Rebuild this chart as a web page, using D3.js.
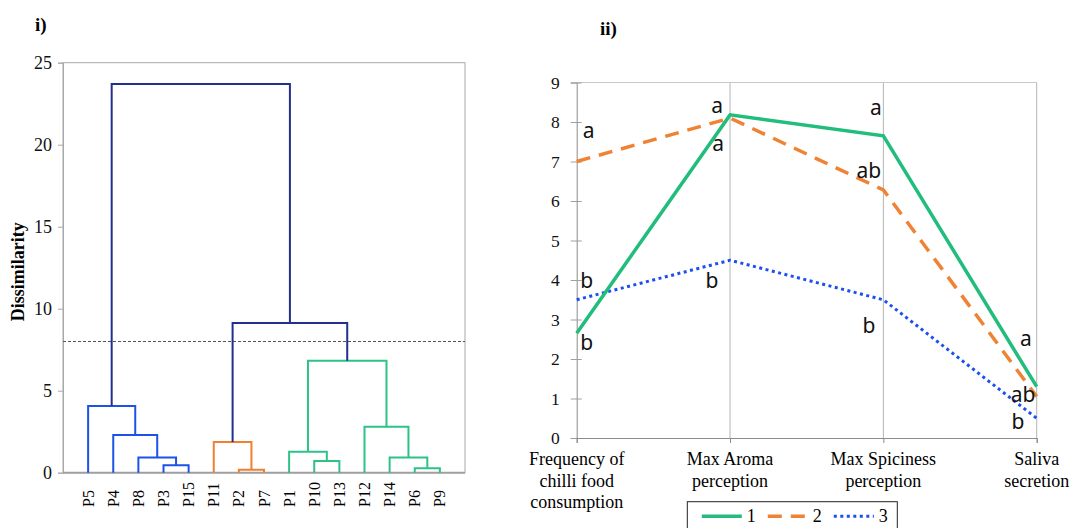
<!DOCTYPE html>
<html>
<head>
<meta charset="utf-8">
<script src="https://cdn.jsdelivr.net/npm/d3@7"></script>
<style>
  body { margin: 0; background: #fff; }
  svg { display: block; }
  svg text { font-family: "Liberation Serif", "Times New Roman", serif; }
</style>
</head>
<body>
<div id="chart"></div>
<script>
// ---- panel i) dendrogram ----
const leafNames = ["P5", "P4", "P8", "P3", "P15", "P11", "P2", "P7", "P1", "P10", "P13", "P12", "P14", "P6", "P9"];
const leafCluster = [1, 1, 1, 1, 1, 2, 2, 2, 3, 3, 3, 3, 3, 3, 3];
// agglomeration steps, merge k creates node "n<k>"
const mergeA = ["P3", "P8", "P4", "P5", "P2", "P11", "P10", "P1", "P6", "P14", "P12", "n8", "n6", "n4"];
const mergeB = ["P15", "n1", "n2", "n3", "P7", "n5", "P13", "n7", "P9", "n9", "n10", "n11", "n12", "n13"];
const mergeHeight = [0.45, 0.92, 2.3, 4.07, 0.18, 1.87, 0.71, 1.28, 0.27, 0.92, 2.8, 6.83, 9.13, 23.7];
const cutLevel = 8;
const dissTicks = [0, 5, 10, 15, 20, 25];

// ---- panel ii) cluster profiles ----
const criteria = [
  ["Frequency of", "chilli food", "consumption"],
  ["Max Aroma", "perception"],
  ["Max Spiciness", "perception"],
  ["Saliva", "secretion"]
];
const seriesNames = ["1", "2", "3"];
const cluster1 = [2.65, 8.18, 7.65, 1.3];
const cluster2 = [7.0, 8.1, 6.28, 1.05];
const cluster3 = [3.5, 4.5, 3.5, 0.5];
const letters1 = ["b", "a", "a", "a"];
const letters2 = ["a", "a", "ab", "ab"];
const letters3 = ["b", "b", "b", "b"];
const scoreTicks = [0, 1, 2, 3, 4, 5, 6, 7, 8, 9];

const W = 1070, H = 528;
const svg = d3.select("#chart").append("svg").attr("width", W).attr("height", H);

const navy = "#232f8e";
const clusterColor = { 1: "#1c53e6", 2: "#f07f30", 3: "#2ec286" };

// ================= panel i =================
const L = { left: 63, right: 465, top: 62.7, bottom: 472.7 };

const xLeaf = d3.scalePoint().domain(leafNames).range([L.left, L.right]).padding(1);
const yDiss = d3.scaleLinear().domain([0, 25]).range([L.bottom, L.top]);

svg.append("text")
  .attr("x", 35).attr("y", 31)
  .style("font-size", "19px").style("font-weight", "bold")
  .text("i)");

// frame
svg.append("rect")
  .attr("x", L.left).attr("y", L.top)
  .attr("width", L.right - L.left).attr("height", L.bottom - L.top)
  .style("fill", "none").style("stroke", "#a8a8a8").style("stroke-width", 1);

// y axis
const axL = svg.append("g")
  .attr("transform", `translate(${L.left},0)`)
  .call(d3.axisLeft(yDiss).tickValues(dissTicks).tickSize(5).tickPadding(6));
axL.attr("font-family", null);
axL.select(".domain").style("stroke", "#a8a8a8");
axL.selectAll("line").style("stroke", "#a8a8a8");
axL.selectAll("text").style("font-size", "18px").style("fill", "#111");

// bottom line a bit heavier
svg.append("line")
  .attr("x1", L.left).attr("x2", L.right)
  .attr("y1", yDiss(0)).attr("y2", yDiss(0))
  .style("stroke", "#a0a0a0").style("stroke-width", 2);

svg.append("text")
  .attr("transform", `translate(18,${(L.top + L.bottom) / 2 + 4}) rotate(-90)`)
  .attr("dy", "0.35em")
  .style("text-anchor", "middle")
  .style("font-size", "18px").style("font-weight", "bold")
  .text("Dissimilarity");

// build tree nodes
const nodes = new Map();
leafNames.forEach((name, i) => {
  nodes.set(name, { x: xLeaf(name), h: 0, clusters: new Set([leafCluster[i]]) });
});
const internals = [];
mergeA.forEach((a, i) => {
  const l = nodes.get(a), r = nodes.get(mergeB[i]);
  const node = {
    x: (l.x + r.x) / 2,
    h: mergeHeight[i],
    clusters: new Set([...l.clusters, ...r.clusters]),
    left: l,
    right: r
  };
  nodes.set("n" + (i + 1), node);
  internals.push(node);
});

// cut line
svg.append("line")
  .attr("x1", L.left).attr("x2", L.right)
  .attr("y1", yDiss(cutLevel)).attr("y2", yDiss(cutLevel))
  .style("stroke", "#555").style("stroke-width", 1.2)
  .style("stroke-dasharray", "3,2");

svg.append("g")
  .selectAll("path")
  .data(internals)
  .enter()
  .append("path")
  .attr("d", d => `M${d.left.x},${yDiss(d.left.h)}V${yDiss(d.h)}H${d.right.x}V${yDiss(d.right.h)}`)
  .style("fill", "none")
  .style("stroke-width", 2)
  .style("stroke", d => (d.clusters.size === 1 ? clusterColor[[...d.clusters][0]] : navy));

// leaf labels
svg.append("g")
  .selectAll("text")
  .data(leafNames)
  .enter()
  .append("text")
  .attr("transform", d => `translate(${xLeaf(d)},507) rotate(-90)`)
  .attr("dy", "0.35em")
  .style("text-anchor", "start")
  .style("font-size", "16px")
  .text(d => d);

// ================= panel ii =================
const R = { left: 576.7, right: 1036.7, top: 82.5, bottom: 438 };
const critKeys = criteria.map(c => c.join(" "));

const xCrit = d3.scalePoint().domain(critKeys).range([R.left, R.right]).padding(0);
const yScore = d3.scaleLinear().domain([0, 9]).range([R.bottom, R.top]);

svg.append("text")
  .attr("x", 600).attr("y", 35)
  .style("font-size", "19px").style("font-weight", "bold")
  .text("ii)");

// vertical grid at each criterion + top border
svg.append("g")
  .selectAll("line")
  .data(critKeys.slice(1))
  .enter()
  .append("line")
  .attr("x1", d => xCrit(d)).attr("x2", d => xCrit(d))
  .attr("y1", yScore(9)).attr("y2", yScore(0))
  .style("stroke", "#b4b4b4").style("stroke-width", 1);

svg.append("line")
  .attr("x1", R.left).attr("x2", R.right)
  .attr("y1", yScore(9)).attr("y2", yScore(9))
  .style("stroke", "#c8c8c8").style("stroke-width", 1);

// y axis with crossing ticks
const axR = svg.append("g")
  .attr("transform", `translate(${R.left},0)`)
  .call(d3.axisLeft(yScore).tickValues(scoreTicks).tickSize(6).tickPadding(11));
axR.attr("font-family", null);
axR.select(".domain").style("stroke", "#8c8c8c");
axR.selectAll("line").attr("x2", -6).attr("x1", 5).style("stroke", "#a0a0a0");
axR.selectAll("text").style("font-size", "17.5px").style("fill", "#111");

// x axis
const axB = svg.append("g")
  .attr("transform", `translate(0,${R.bottom})`)
  .call(d3.axisBottom(xCrit).tickSize(5).tickFormat(""));
axB.select(".domain").style("stroke", "#8c8c8c");
axB.selectAll("line").style("stroke", "#8c8c8c");

// multi-line category labels
const catLabel = svg.append("g")
  .selectAll("text")
  .data(criteria)
  .enter()
  .append("text")
  .attr("x", (d, i) => xCrit(critKeys[i]))
  .attr("y", 465)
  .style("text-anchor", "middle")
  .style("font-size", "18px");
catLabel.selectAll("tspan")
  .data(d => d)
  .enter()
  .append("tspan")
  .attr("x", function () { return this.parentNode.getAttribute("x"); })
  .attr("dy", (d, i) => (i === 0 ? 0 : 21.5))
  .text(d => d);

const series = [
  { name: seriesNames[0], values: cluster1, letters: letters1, color: "#21bd7c", width: 3.5, dash: null },
  { name: seriesNames[1], values: cluster2, letters: letters2, color: "#f08233", width: 3.5, dash: "14,9" },
  { name: seriesNames[2], values: cluster3, letters: letters3, color: "#1a4ff0", width: 3, dash: "3,3.5" }
];

// pixel offsets of the significance letters from their point
const letterOffset = [
  [[10, 17], [-13, -2.2], [-7.6, -20.8], [-10.7, -40.7]],
  [[12, -23.5], [-12, 32.6], [-14.6, -11.9], [-13.7, 5.2]],
  [[10, -12], [-18, 27.7], [-14.3, 33.2], [-18.7, 10.7]]
];

const line = d3.line()
  .x((d, i) => xCrit(critKeys[i]))
  .y(d => yScore(d));

// draw blue first, green on top
[2, 1, 0].forEach(k => {
  const s = series[k];
  svg.append("path")
    .datum(s.values)
    .attr("d", line)
    .style("fill", "none")
    .style("stroke", s.color)
    .style("stroke-width", s.width)
    .style("stroke-dasharray", s.dash);
});

series.forEach((s, k) => {
  svg.append("g")
    .selectAll("text")
    .data(s.letters)
    .enter()
    .append("text")
    .attr("x", (d, i) => xCrit(critKeys[i]) + letterOffset[k][i][0])
    .attr("y", (d, i) => yScore(s.values[i]) + letterOffset[k][i][1])
    .style("text-anchor", "middle")
    .style("font-family", "'Noto Sans', 'Open Sans', sans-serif")
    .style("font-size", "21px")
    .style("fill", "#111")
    .text(d => d);
});

// legend
const legend = svg.append("g").attr("transform", "translate(687.3,501.7)");
legend.append("rect")
  .attr("width", 210).attr("height", 32)
  .style("fill", "#fff").style("stroke", "#222").style("stroke-width", 1);

series.forEach((s, k) => {
  const x0 = 14.5 + k * 66;
  legend.append("line")
    .attr("x1", x0).attr("x2", x0 + 40)
    .attr("y1", 14.5).attr("y2", 14.5)
    .style("stroke", s.color)
    .style("stroke-width", s.width)
    .style("stroke-dasharray", s.dash);
  legend.append("text")
    .attr("x", x0 + 45).attr("y", 20)
    .style("font-size", "18px")
    .text(s.name);
});
</script>
</body>
</html>
